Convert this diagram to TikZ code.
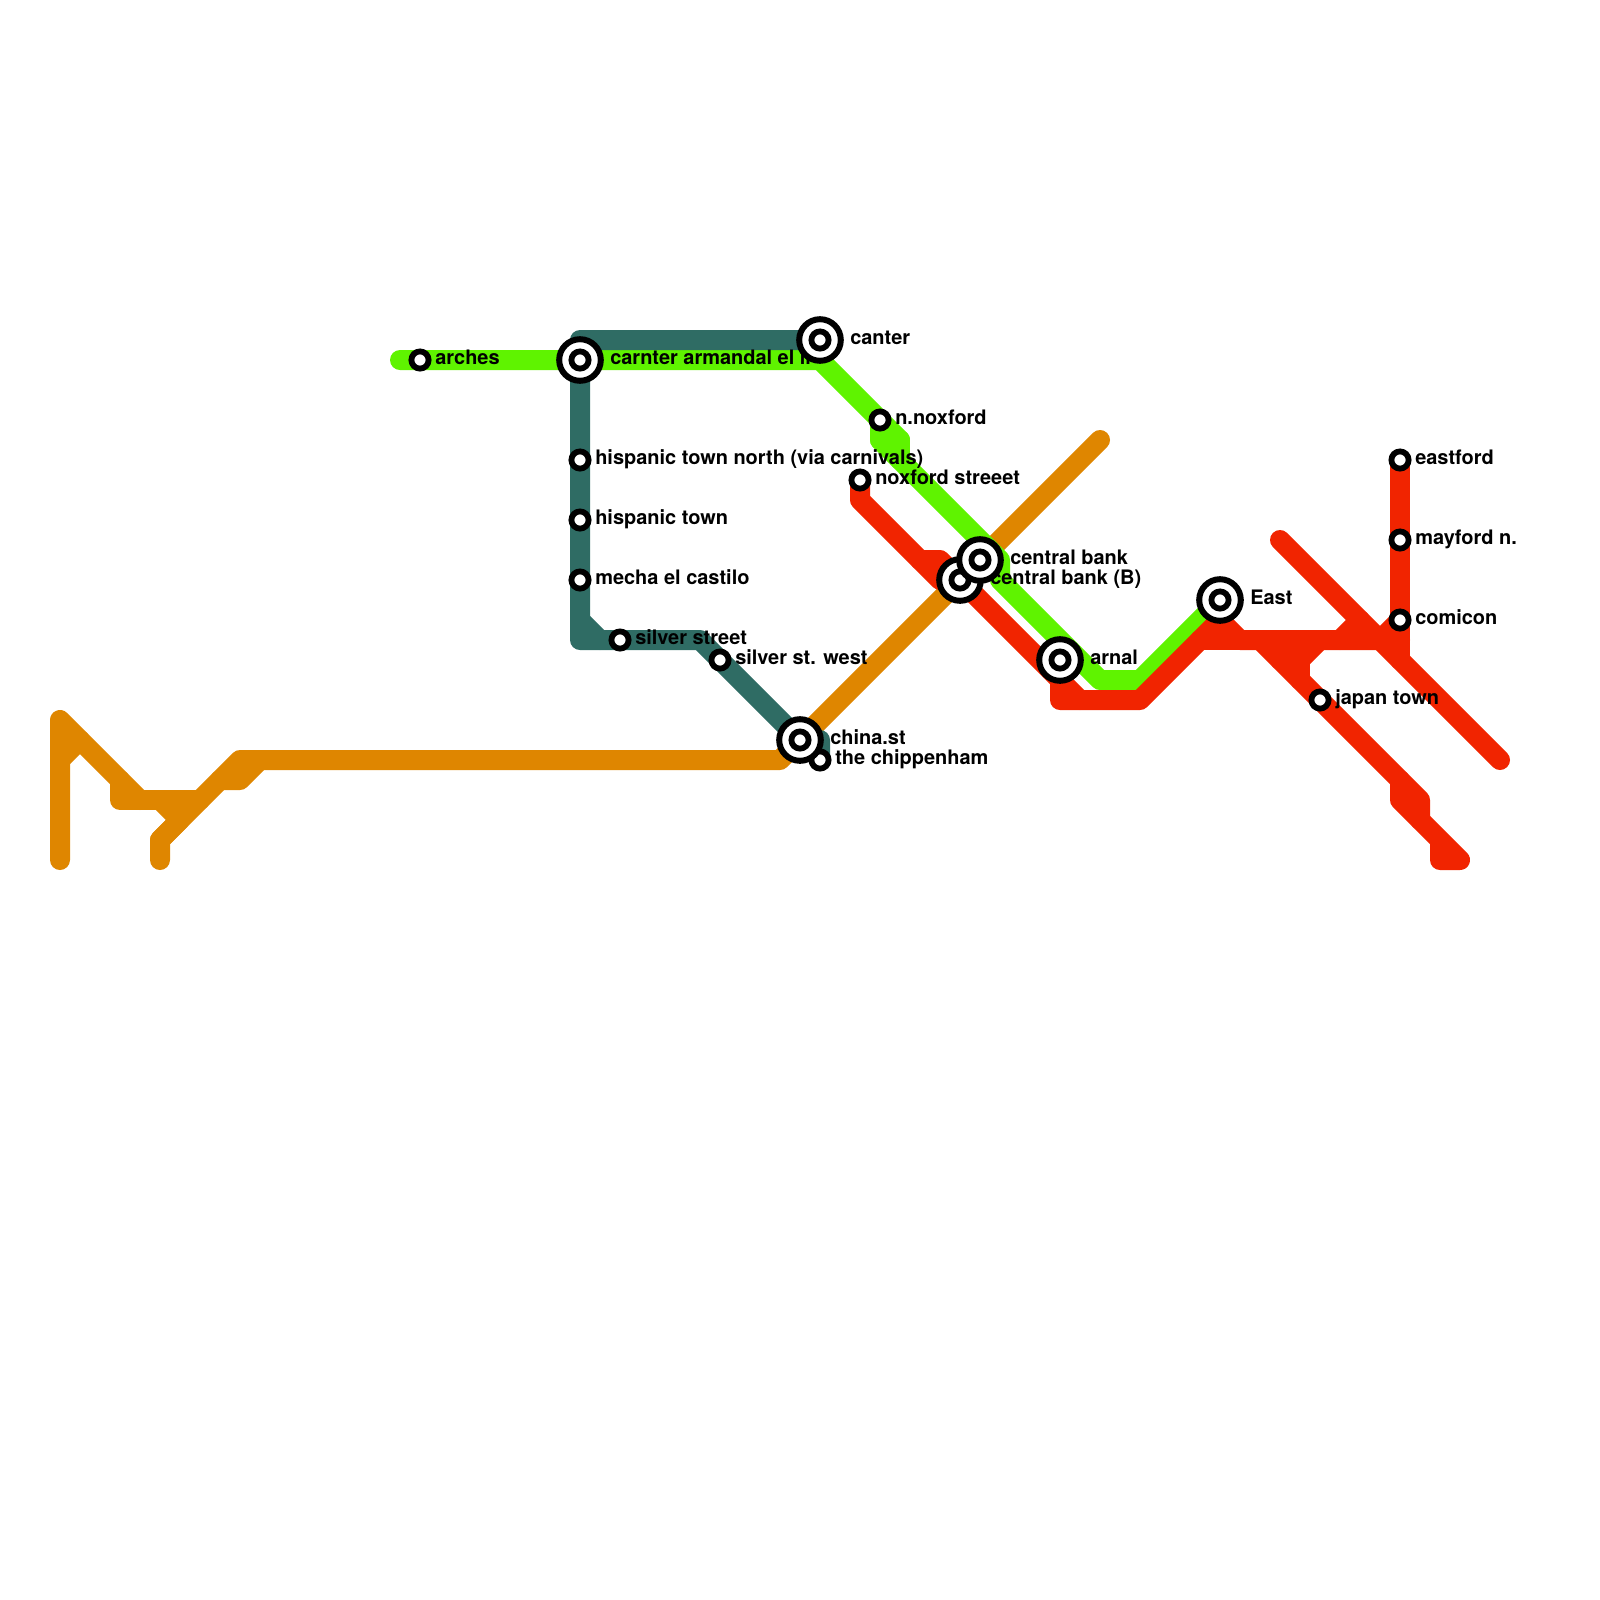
\documentclass[tikz,border=0pt]{standalone}
\usepackage{fontspec}
\setmainfont{TeX Gyre Heros}
\usetikzlibrary{backgrounds}
\definecolor{linegreen}{HTML}{5FF300}
\definecolor{linedark}{HTML}{2F6C64}
\definecolor{lineorange}{HTML}{DF8600}
\definecolor{linered}{HTML}{F12400}
\tikzset{
  route/.style={line width=.5cm,line cap=round,line join=round},
  stn/.style={circle,draw=black,fill=white,line width=.145cm,minimum size=.43cm,inner sep=0pt},
  hub/.style={circle,draw=black,fill=white,line width=.15cm,minimum size=1.04cm,inner sep=0pt},
  lbl/.style={anchor=base west,inner sep=0pt,font=\fontsize{14.2}{16}\selectfont\bfseries}
}
\begin{document}
\begin{tikzpicture}[x=.5cm,y=-.5cm]
\useasboundingbox (0,0) rectangle (80,80);
% labels
\node[lbl] (archeslbl) at (21.75,18.24){arches};
\node[lbl] (carnterlbl) at (30.5,18.24){carnter armandal el ll};
\node[lbl] (canterlbl) at (42.5,17.24){canter};
\node[lbl] (nnoxfordlbl) at (44.75,21.24){n.noxford};
\node[lbl] (noxfordlbl) at (43.75,24.24){noxford streeet};
\node[lbl] (cbanklbl) at (50.5,28.24){central bank};
\node[lbl] (cbankblbl) at (49.5,29.24){central bank (B)};
\node[lbl] (arnallbl) at (54.5,33.24){arnal};
\node[lbl] (eastlbl) at (62.5,30.24){East};
\node[lbl] (eastfordlbl) at (70.75,23.24){eastford};
\node[lbl] (mayfordlbl) at (70.75,27.24){mayford n.};
\node[lbl] (comiconlbl) at (70.75,31.24){comicon};
\node[lbl] (japanlbl) at (66.75,35.24){japan town};
\node[lbl] (hispnlbl) at (29.75,23.24){hispanic town north (via carnivals)};
\node[lbl] (hisplbl) at (29.75,26.24){hispanic town};
\node[lbl] (mechalbl) at (29.75,29.24){mecha el castilo};
\node[lbl] (silverlbl) at (31.75,32.24){silver street};
\node[lbl] (silverwlbl) at (36.75,33.24){silver st. west};
\node[lbl] (chinalbl) at (41.5,37.24){china.st};
\node[lbl] (chiplbl) at (41.75,38.24){the chippenham};
% stations
\node[stn] (arches) at (21,18){};
\node[stn] (hispn) at (29,23){};
\node[stn] (hisp) at (29,26){};
\node[stn] (mecha) at (29,29){};
\node[stn] (silver) at (31,32){};
\node[stn] (silverw) at (36,33){};
\node[stn] (nnoxford) at (44,21){};
\node[stn] (noxford) at (43,24){};
\node[stn] (eastford) at (70,23){};
\node[stn] (mayford) at (70,27){};
\node[stn] (comicon) at (70,31){};
\node[stn] (japan) at (66,35){};
\node[stn] (chip) at (41,38){};
\node[hub] (carnter) at (29,18){};
\node[stn] (carnterin) at (29,18){};
\node[hub] (canter) at (41,17){};
\node[stn] (canterin) at (41,17){};
\node[hub] (china) at (40,37){};
\node[stn] (chinain) at (40,37){};
\node[hub] (cbankb) at (48,29){};
\node[stn] (cbankbin) at (48,29){};
\node[hub] (cbank) at (49,28){};
\node[stn] (cbankin) at (49,28){};
\node[hub] (arnal) at (53,33){};
\node[stn] (arnalin) at (53,33){};
\node[hub] (east) at (61,30){};
\node[stn] (eastin) at (61,30){};
% bends
\coordinate (g0) at (20,18);
\coordinate (g1) at (41,18);
\coordinate (g2) at (45,22);
\coordinate (g3) at (44,22);
\coordinate (g4) at (50,28);
\coordinate (g5) at (50,29);
\coordinate (g6) at (55,34);
\coordinate (g7) at (57,34);
\coordinate (g8) at (45,23);
\coordinate (d1) at (29,17);
\coordinate (d2) at (29,32);
\coordinate (d3) at (35,32);
\coordinate (d4) at (41,37);
\coordinate (d5) at (29,31);
\coordinate (d6) at (30,32);
\coordinate (o1) at (3,43);
\coordinate (o2) at (3,36);
\coordinate (o3) at (7,40);
\coordinate (o4) at (3,38);
\coordinate (o5) at (4,37);
\coordinate (o6) at (6,39);
\coordinate (o7) at (6,40);
\coordinate (o8) at (10,40);
\coordinate (o9) at (8,40);
\coordinate (o10) at (9,41);
\coordinate (o11) at (8,42);
\coordinate (o12) at (8,43);
\coordinate (o13) at (12,38);
\coordinate (o14) at (39,38);
\coordinate (o15) at (55,22);
\coordinate (o16) at (11,39);
\coordinate (o17) at (12,39);
\coordinate (o18) at (13,38);
\coordinate (r1) at (43,25);
\coordinate (r2) at (47,29);
\coordinate (r3) at (46,28);
\coordinate (r4) at (47,28);
\coordinate (r5) at (54,35);
\coordinate (r6) at (53,35);
\coordinate (r7) at (57,35);
\coordinate (r8) at (61,31);
\coordinate (r9) at (62,32);
\coordinate (r10) at (60,32);
\coordinate (r11) at (70,32);
\coordinate (r12) at (70,33);
\coordinate (r13) at (64,27);
\coordinate (r14) at (75,38);
\coordinate (r15) at (63,32);
\coordinate (r16) at (70,39);
\coordinate (r17) at (71,40);
\coordinate (r18) at (71,41);
\coordinate (r19) at (70,40);
\coordinate (r20) at (73,43);
\coordinate (r21) at (72,43);
\coordinate (r22) at (72,42);
\coordinate (r23) at (67,32);
\coordinate (r24) at (68,31);
\coordinate (r25) at (69,32);
\coordinate (r26) at (65,33);
\coordinate (r27) at (66,32);
\coordinate (r28) at (65,34);
\coordinate (r29) at (64,33);
\begin{pgfonlayer}{background}
% orange
\draw[route,lineorange] (o1)--(o2)--(o3);
\draw[route,lineorange] (o4)--(o5);
\draw[route,lineorange] (o6)--(o7)--(o8);
\draw[route,lineorange] (o9)--(o10)--(o11)--(o12);
\draw[route,lineorange] (o11)--(o13)--(o14)--(china.center)--(o15);
\draw[route,lineorange] (o16)--(o17)--(o18);
% green
\draw[route,linegreen] (g0)--(g1)--(g2)--(g3)--(nnoxford.center);
\draw[route,linegreen] (g2)--(g8);
\draw[route,linegreen] (g3)--(g4)--(g5)--(g6)--(g7)--(east.center);
% dark
\draw[route,linedark] (canter.center)--(d1)--(d2)--(d3)--(china.center)--(d4)--(chip.center);
\draw[route,linedark] (d5)--(d6);
% red
\draw[route,linered] (noxford.center)--(r1)--(r2)--(cbankb.center);
\draw[route,linered] (r3)--(r4)--(r5);
\draw[route,linered] (arnal.center)--(r6)--(r7)--(r8)--(east.center);
\draw[route,linered] (r8)--(r9)--(r11);
\draw[route,linered] (r10)--(r11);
\draw[route,linered] (eastford.center)--(r12);
\draw[route,linered] (r13)--(r14);
\draw[route,linered] (r15)--(r16)--(r17)--(r18);
\draw[route,linered] (r16)--(r19)--(r20)--(r21)--(r22);
\draw[route,linered] (r23)--(r24);
\draw[route,linered] (comicon.center)--(r25);
\draw[route,linered] (r26)--(r27);
\draw[route,linered] (r26)--(r28);
\draw[route,linered] (r29)--(r26);
\end{pgfonlayer}
\end{tikzpicture}
\end{document}
